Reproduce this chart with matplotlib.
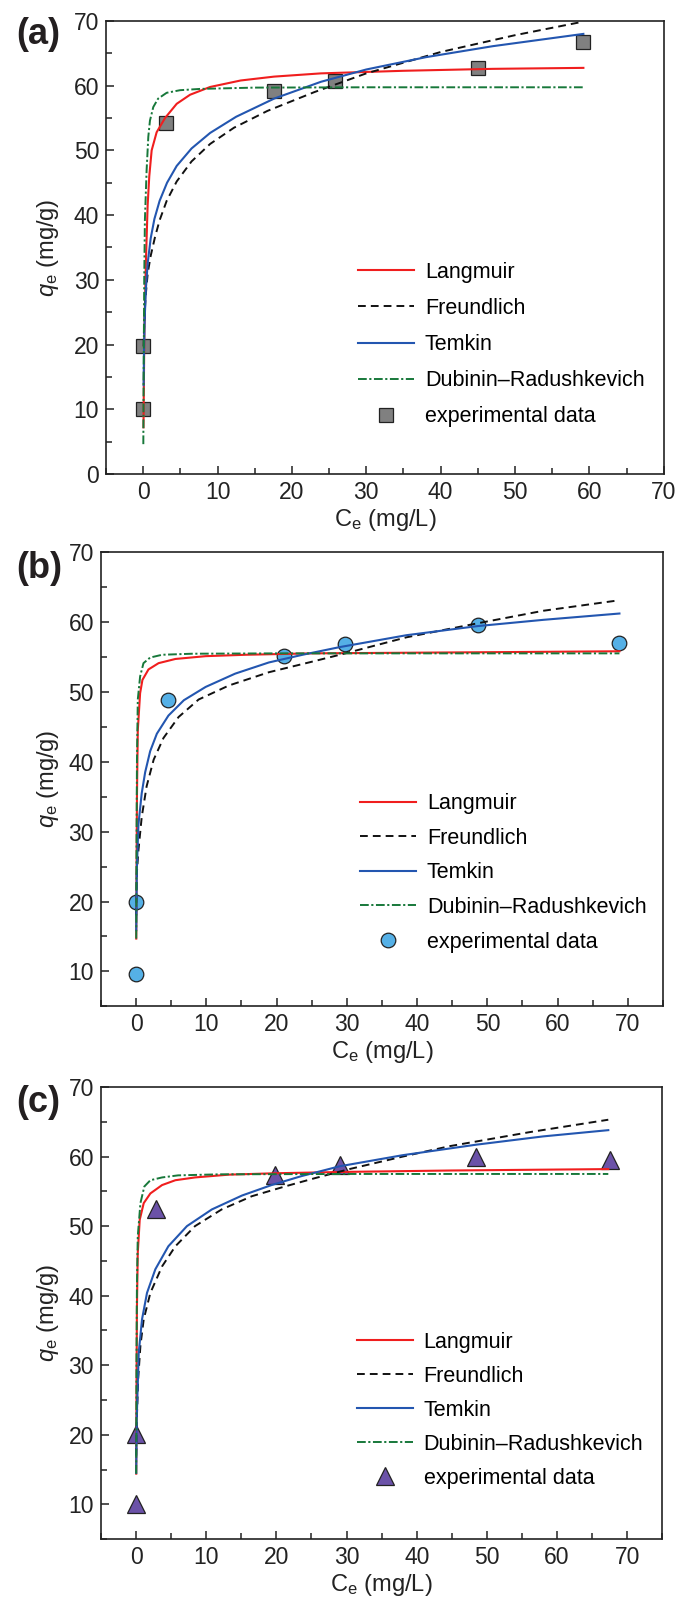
import matplotlib
matplotlib.use("Agg")
import matplotlib.pyplot as plt
from matplotlib.ticker import MultipleLocator

plt.rcParams['font.family'] = ['Liberation Sans', 'DejaVu Sans']
plt.rcParams['mathtext.fontset'] = 'custom'
plt.rcParams['mathtext.rm'] = 'Liberation Sans'
plt.rcParams['mathtext.it'] = 'Liberation Sans:italic'

# ---- panel (a) ----
exp_a_C = [0.0, 0.0, 3.0, 17.6, 25.8, 45.0, 59.2]
exp_a_q = [10.0, 19.8, 54.2, 59.2, 60.7, 62.7, 66.8]
lang_a_C = [0.03, 0.15, 0.36, 0.59, 0.81, 1.13, 1.8, 2.93, 4.5, 6.3, 9.0, 13.1, 17.6, 23.9, 35, 47, 59.2]
lang_a_q = [7.2, 22, 33, 41.5, 46, 50, 52.8, 55.0, 57.2, 58.6, 59.8, 60.8, 61.4, 61.9, 62.3, 62.6, 62.75]
freu_a_C = [0.05, 0.1, 0.3, 0.6, 1.0, 1.58, 2.2, 3.15, 4.5, 6.5, 9.0, 12.2, 16.7, 23, 30, 40, 50, 59.2]
freu_a_q = [19.7, 22.3, 27.2, 31.0, 33.7, 36.6, 39.2, 42.2, 45.2, 48.3, 51.0, 53.5, 56.1, 59.0, 61.9, 65.2, 67.8, 69.9]
temk_a_C = [0.05, 0.1, 0.2, 0.36, 0.6, 1.0, 1.5, 2.2, 3.2, 4.5, 6.5, 9.0, 12.5, 17.6, 23.9, 30, 38, 47, 59.2]
temk_a_q = [13.7, 18.8, 24.2, 28.7, 32.6, 36.4, 39.4, 42.2, 45.0, 47.6, 50.3, 52.7, 55.2, 58.0, 60.6, 62.5, 64.4, 66.1, 68.0]
dr_a_C = [0.01, 0.05, 0.13, 0.22, 0.45, 0.68, 0.9, 1.35, 2.0, 3.15, 4.95, 7.66, 15, 30, 59.2]
dr_a_q = [4.6, 15, 30, 39.2, 46.9, 52.1, 54.6, 56.7, 58.0, 58.9, 59.3, 59.5, 59.7, 59.75, 59.75]

# ---- panel (b) ----
exp_b_C = [0.0, 0.0, 4.6, 21.1, 29.7, 48.6, 68.7]
exp_b_q = [9.7, 20.0, 48.8, 55.1, 56.9, 59.6, 57.0]
lang_b_C = [0.02, 0.06, 0.12, 0.24, 0.57, 0.9, 1.76, 3.2, 5.6, 9.9, 15.6, 25, 40, 55, 68.8]
lang_b_q = [14.7, 24, 35, 44.5, 49.8, 51.7, 53.2, 54.1, 54.7, 55.1, 55.3, 55.5, 55.6, 55.7, 55.8]
freu_b_C = [0.02, 0.1, 0.33, 0.8, 1.5, 2.5, 3.9, 6.05, 8.9, 13.2, 18.9, 24.6, 29, 38.5, 48.6, 58, 68.8]
freu_b_q = [18, 24, 27.3, 32.1, 36.5, 40.3, 43.4, 46.4, 48.9, 50.9, 52.8, 54.2, 55.3, 57.8, 59.8, 61.6, 63.1]
temk_b_C = [0.02, 0.1, 0.33, 0.8, 1.29, 2.0, 2.95, 4.6, 6.8, 9.9, 14.1, 18.9, 23.7, 29, 38.5, 48.6, 58, 68.8]
temk_b_q = [15.9, 24.5, 31, 35.5, 38.5, 41.5, 44, 46.6, 48.8, 50.7, 52.6, 54.2, 55.3, 56.4, 58.1, 59.4, 60.3, 61.2]
dr_b_C = [0.02, 0.06, 0.12, 0.24, 0.57, 1.05, 2.0, 3.7, 8, 20, 40, 68.8]
dr_b_q = [14.7, 28, 40, 48.9, 52.2, 54.1, 54.9, 55.3, 55.45, 55.5, 55.5, 55.5]

# ---- panel (c) ----
exp_c_C = [0.0, 0.0, 2.8, 19.8, 29.0, 48.4, 67.5]
exp_c_q = [10.0, 20.1, 52.4, 57.4, 58.8, 59.9, 59.45]
lang_c_C = [0.02, 0.06, 0.12, 0.24, 0.52, 1.09, 2.04, 3.7, 5.6, 8.4, 13.2, 19.8, 30, 45, 67.3]
lang_c_q = [14.4, 26, 38, 46.1, 50.9, 53.3, 54.7, 55.9, 56.6, 57.0, 57.4, 57.6, 57.8, 58.0, 58.2]
freu_c_C = [0.02, 0.1, 0.3, 0.62, 1.09, 2.04, 3.7, 5.6, 8.4, 12.2, 16.5, 21.2, 25.5, 30.4, 38, 44.7, 56, 67.3]
freu_c_q = [17, 22, 28, 32.8, 36.6, 40.4, 44.2, 47.1, 50, 52.4, 54.3, 55.7, 56.9, 58.2, 60, 61.5, 63.5, 65.3]
temk_c_C = [0.02, 0.1, 0.38, 0.85, 1.56, 2.75, 4.6, 7.25, 10.8, 15.1, 19.3, 23.6, 29, 38, 48.4, 58, 67.3]
temk_c_q = [14.5, 22.5, 31.8, 36.6, 40.4, 43.8, 47.1, 50.0, 52.4, 54.4, 55.9, 57.2, 58.6, 60.2, 61.7, 62.9, 63.8]
dr_c_C = [0.02, 0.06, 0.12, 0.24, 0.62, 1.18, 2.04, 3.7, 6, 12, 30, 67.3]
dr_c_q = [14.4, 30, 41, 48.5, 53.3, 55.7, 56.6, 57.0, 57.3, 57.45, 57.5, 57.5]

labels = ['Langmuir', 'Freundlich', 'Temkin', 'Dubinin\u2013Radushkevich', 'experimental data']

panels = [
    dict(tag='(a)', rect=[0.156, 0.7038, 0.820, 0.2831], ylim=(0, 70), xlim=(-5, 70),
         exp=(exp_a_C, exp_a_q), marker='s', mfc='#808080', ms=9.5,
         lang=(lang_a_C, lang_a_q), freu=(freu_a_C, freu_a_q),
         temk=(temk_a_C, temk_a_q), dr=(dr_a_C, dr_a_q),
         leg=(0.452, 0.468), ls=0.70, tagy=35),
    dict(tag='(b)', rect=[0.1485, 0.371, 0.8265, 0.284], ylim=(5, 70), xlim=(-5, 75),
         exp=(exp_b_C, exp_b_q), marker='o', mfc='#55B0E6', ms=10.5,
         lang=(lang_b_C, lang_b_q), freu=(freu_b_C, freu_b_q),
         temk=(temk_b_C, temk_b_q), dr=(dr_b_C, dr_b_q),
         leg=(0.461, 0.469), ls=0.63, tagy=568),
    dict(tag='(c)', rect=[0.1485, 0.0381, 0.8255, 0.2825], ylim=(5, 70), xlim=(-5, 75),
         exp=(exp_c_C, exp_c_q), marker='^', mfc='#6B52A8', ms=13,
         lang=(lang_c_C, lang_c_q), freu=(freu_c_C, freu_c_q),
         temk=(temk_c_C, temk_c_q), dr=(dr_c_C, dr_c_q),
         leg=(0.456, 0.458), ls=0.60, tagy=1103),
]

fig = plt.figure(figsize=(6.8, 16), dpi=100)

for p in panels:
    ax = fig.add_axes(p['rect'])
    ax.plot(p['exp'][0], p['exp'][1], linestyle='none', marker=p['marker'], ms=p['ms'],
            mfc=p['mfc'], mec='#222222', mew=0.9, zorder=2, label=labels[4])
    ax.plot(*p['lang'], color='#F01E1E', lw=1.5, zorder=3, label=labels[0])
    ax.plot(*p['freu'], color='#111111', lw=1.4, linestyle=(0, (4, 2.6)), zorder=3, label=labels[1])
    ax.plot(*p['temk'], color='#2356B0', lw=1.5, zorder=3, label=labels[2])
    ax.plot(*p['dr'], color='#17783A', lw=1.4, linestyle=(0, (4.5, 1.3, 1.1, 1.3)), zorder=4, label=labels[3])

    ax.set_xlim(*p['xlim'])
    ax.set_ylim(*p['ylim'])
    ax.xaxis.set_major_locator(MultipleLocator(10))
    ax.xaxis.set_minor_locator(MultipleLocator(5))
    ax.yaxis.set_major_locator(MultipleLocator(10))
    ax.yaxis.set_minor_locator(MultipleLocator(5))
    if p['ylim'][0] == 5:
        ax.set_yticks([10, 20, 30, 40, 50, 60, 70])
    ax.tick_params(which='both', direction='in', top=False, right=False, labelsize=16.5,
                   colors='#222222', width=1.1)
    ax.tick_params(which='major', length=6, pad=5)
    ax.tick_params(which='minor', length=4)
    for s in ax.spines.values():
        s.set_linewidth(1.2)
        s.set_color('#222222')

    ax.set_xlabel(r'C$_{\mathrm{e}}$ (mg/L)', fontsize=17, color='#222222')
    ax.set_ylabel(r'$q_{\mathrm{e}}$ (mg/g)', fontsize=17, color='#222222')
    h = p['rect'][3] * 1600
    w = p['rect'][2] * 680
    ax.xaxis.set_label_coords(0.5, -33 / h)
    ax.yaxis.set_label_coords(-(p['rect'][0] * 680 - 61) / w, 0.5)

    handles, labs = ax.get_legend_handles_labels()
    order = [1, 2, 3, 4, 0]
    ax.legend([handles[i] for i in order], [labs[i] for i in order],
              loc='upper left', bbox_to_anchor=p['leg'], frameon=False,
              fontsize=15.5, handlelength=2.6, handletextpad=0.5,
              labelspacing=p['ls'], borderpad=0, borderaxespad=0, numpoints=1)

    fig.text(16 / 680, 1 - p['tagy'] / 1600, p['tag'], fontsize=26, fontweight='bold',
             color='#231F20', va='center', ha='left')

fig.savefig('out.png', dpi=100)
